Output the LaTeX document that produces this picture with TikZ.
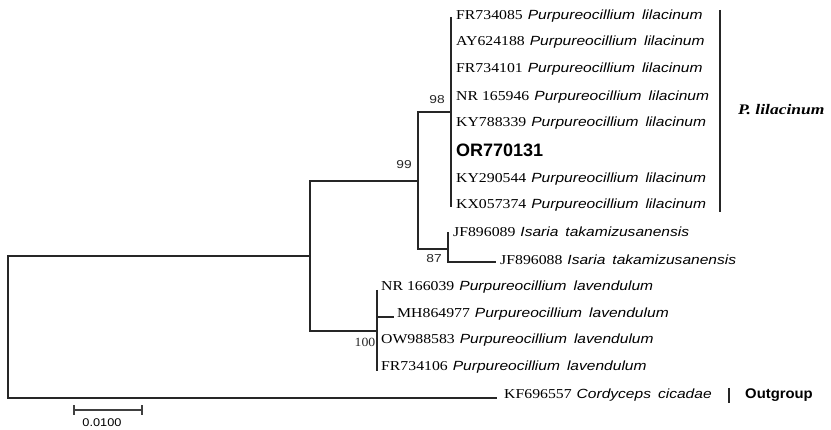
\documentclass[tikz,border=0pt]{standalone}
\usepackage{fontspec}
\setmainfont{Liberation Serif}
\newfontfamily\accf[FakeStretch=1.16]{Liberation Serif}
\newfontfamily\spf[FakeStretch=1.17]{Liberation Sans}
\newfontfamily\numf[FakeStretch=1.2]{Liberation Sans}
\newfontfamily\snumf[FakeStretch=1.1]{Liberation Serif}
\newfontfamily\labf[FakeStretch=1.2]{Liberation Serif}
\newfontfamily\outf[FakeStretch=1.06]{Liberation Sans}
\newfontfamily\barf[FakeStretch=1.14]{Liberation Sans}
\newfontfamily\orf{Liberation Sans}
\newcommand{\lname}[2]{{\accf\fontsize{13.6pt}{16pt}\selectfont #1}\hspace{5pt}{\spf\itshape\fontsize{13.3pt}{16pt}\selectfont #2}}
\newcommand{\twow}[2]{#1\hspace{7pt}#2}
\tikzset{
  branch/.style={line width=2.2pt, color=black!85, line cap=rect},
  thick branch/.style={line width=2.8pt, color=black!85},
  leaf/.style={anchor=west, inner sep=0pt},
  boot/.style={inner sep=0pt, font=\numf\fontsize{11.5pt}{12pt}\selectfont, text=black!85},
  sboot/.style={inner sep=0pt, font=\snumf\fontsize{12.5pt}{12pt}\selectfont, text=black!85},
}
\begin{document}
\begin{tikzpicture}[x=1pt,y=-1pt]
\useasboundingbox (0,0) rectangle (831,430);
% tree coordinates
\coordinate (root) at (8,327);
\coordinate (A) at (310,256);
\coordinate (B) at (418,181);
\coordinate (D) at (377,331);
\coordinate (Ltop) at (451,17);
\coordinate (Lbot) at (451,207);
\coordinate (L) at (451,112);
\coordinate (Ctop) at (448,233);
\coordinate (Cbot) at (448,262);
\coordinate (C) at (448,249);
\coordinate (Dtop) at (377,290);
\coordinate (Dbot) at (377,371);
\coordinate (Dmh) at (377,317);
\coordinate (mhend) at (393,317);
\coordinate (jf88end) at (495,262);
\coordinate (kfend) at (496,398);
% branches
\draw[branch] (root) |- (A);
\draw[branch] (root) |- (kfend);
\draw[branch] (A) |- (B);
\draw[branch] (A) |- (D);
\draw[branch] (B) |- (L);
\draw[branch] (B) |- (C);
\draw[thick branch] (Ltop) -- (Lbot);
\draw[branch] (Ctop) -- (Cbot) -- (jf88end);
\draw[thick branch] (Dtop) -- (Dbot);
\draw[branch] (Dmh) -- (mhend);
% bootstrap
\node[boot] (b99) at (404,165) {99};
\node[boot] (b98) at (437,100) {98};
\node[boot] (b87) at (434,259) {87};
\node[sboot] (b100) at (365,342) {100};
% lilacinum leaves
\node[leaf] (t1) at (456,16) {\lname{FR734085}{\twow{Purpureocillium}{lilacinum}}};
\node[leaf] (t2) at (456,42) {\lname{AY624188}{\twow{Purpureocillium}{lilacinum}}};
\node[leaf] (t3) at (456,69) {\lname{FR734101}{\twow{Purpureocillium}{lilacinum}}};
\node[leaf] (t4) at (456,97) {\lname{NR 165946}{\twow{Purpureocillium}{lilacinum}}};
\node[leaf] (t5) at (456,123) {\lname{KY788339}{\twow{Purpureocillium}{lilacinum}}};
\node[leaf] (t6) at (456,150) {\orf\bfseries\fontsize{18pt}{20pt}\selectfont OR770131};
\node[leaf] (t7) at (456,179) {\lname{KY290544}{\twow{Purpureocillium}{lilacinum}}};
\node[leaf] (t8) at (456,205) {\lname{KX057374}{\twow{Purpureocillium}{lilacinum}}};
% Isaria
\node[leaf] (i1) at (453,232) {\lname{JF896089}{\twow{Isaria}{takamizusanensis}}};
\node[leaf] (i2) at (500,260) {\lname{JF896088}{\twow{Isaria}{takamizusanensis}}};
% lavendulum
\node[leaf] (v1) at (381,287) {\lname{NR 166039}{\twow{Purpureocillium}{lavendulum}}};
\node[leaf] (v2) at (397,314) {\lname{MH864977}{\twow{Purpureocillium}{lavendulum}}};
\node[leaf] (v3) at (381,340) {\lname{OW988583}{\twow{Purpureocillium}{lavendulum}}};
\node[leaf] (v4) at (381,367) {\lname{FR734106}{\twow{Purpureocillium}{lavendulum}}};
% outgroup
\node[leaf] (o1) at (504,395) {\lname{KF696557}{\twow{Cordyceps}{cicadae}}};
% clade brackets
\coordinate (brtop) at (720,10);
\coordinate (brbot) at (720,212);
\draw[line width=2.4pt, color=black!85] (brtop) -- (brbot);
\node[anchor=west, inner sep=0pt] (plil) at (738,110) {\labf\bfseries\itshape\fontsize{14.6pt}{16pt}\selectfont P. lilacinum};
\coordinate (ogtop) at (729,388);
\coordinate (ogbot) at (729,403);
\draw[line width=2.8pt, color=black!85] (ogtop) -- (ogbot);
\node[anchor=west, inner sep=0pt] (og) at (745,395) {\outf\bfseries\fontsize{14pt}{16pt}\selectfont Outgroup};
% scale bar
\coordinate (sbl) at (74,410);
\coordinate (sbr) at (142,410);
\draw[line width=1.3pt, color=black!75] (sbl) -- (sbr);
\draw[line width=1.3pt, color=black!75] ([yshift=-5pt]sbl) -- ([yshift=5pt]sbl);
\draw[line width=1.3pt, color=black!75] ([yshift=-5pt]sbr) -- ([yshift=5pt]sbr);
\node[inner sep=0pt] (sblab) at (102,423) {\barf\fontsize{11.2pt}{12pt}\selectfont 0.0100};
\end{tikzpicture}
\end{document}
